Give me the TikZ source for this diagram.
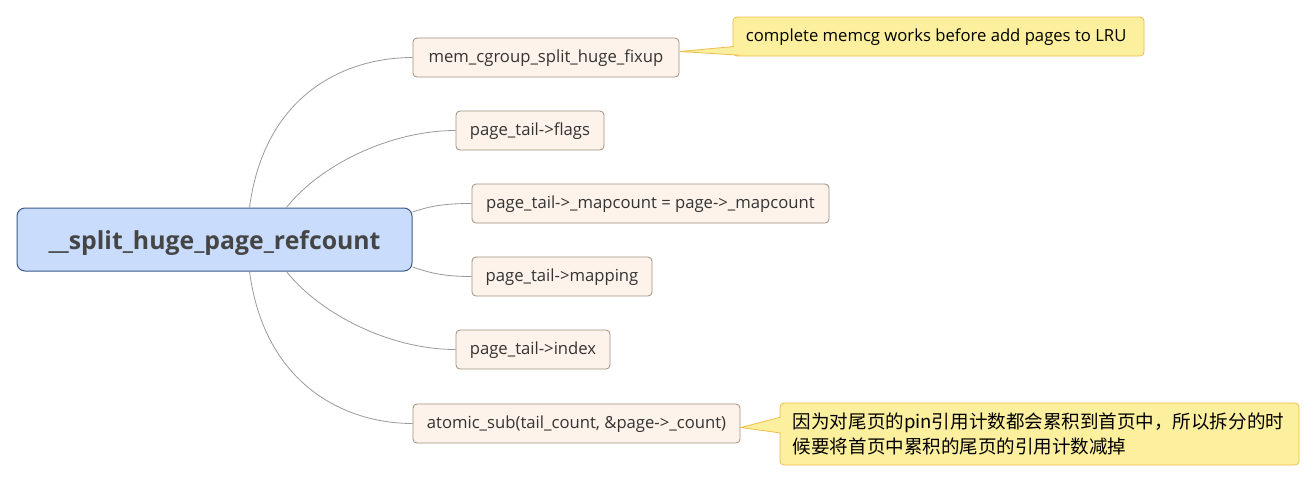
\documentclass[tikz,border=0pt]{standalone}
\usepackage{fontspec}
\setmainfont{Open Sans}
\newfontfamily\cjk{Noto Sans CJK SC}
\usetikzlibrary{calc}
\definecolor{rootfill}{HTML}{C9DCFB}
\definecolor{rootborder}{HTML}{3D5A8A}
\definecolor{topicfill}{HTML}{FEF3EA}
\definecolor{topicborder}{HTML}{9E8E80}
\definecolor{linkcol}{HTML}{9A9A9A}
\definecolor{calloutfill}{HTML}{FCEF9E}
\definecolor{calloutborder}{HTML}{EDBE4E}
\definecolor{textcol}{HTML}{333333}
\definecolor{roottext}{HTML}{454545}
\begin{document}
\begin{tikzpicture}[x=0.75pt,y=-0.75pt,
  rootbox/.style={draw=rootborder, fill=rootfill, rounded corners=6pt, line width=0.75pt,
    inner sep=0pt, minimum width=296.25pt, minimum height=47.25pt, text=roottext,
    text height=16.5pt, text depth=1pt,
    font=\fontsize{18.6}{22}\selectfont\bfseries},
  topic/.style={draw=topicborder, fill=topicfill, rounded corners=3pt, line width=0.6pt,
    inner sep=0pt, minimum height=29.25pt, text=textcol,
    text height=9pt, text depth=2pt,
    font=\fontsize{12.5}{15}\selectfont},
  callout/.style={draw=calloutborder, fill=calloutfill, rounded corners=3pt, line width=0.6pt,
    inner sep=0pt},
  link/.style={draw=linkcol, line width=0.6pt},
]
\useasboundingbox (0,0) rectangle (1316,483);
\fill[white] (0,0) rectangle (1316,483);

% root
\node[rootbox] (root) at (214.5,239.5) {\_\_split\_huge\_page\_refcount};

% topics
\node[topic, minimum width=199.5pt] (t1) at (546,57.5) {mem\_cgroup\_split\_huge\_fixup};
\node[topic, minimum width=111pt] (t2) at (530,130.5) {page\_tail->flags};
\node[topic, minimum width=267.75pt] (t3) at (650.5,203.5) {page\_tail->\_mapcount = page->\_mapcount};
\node[topic, minimum width=135pt] (t4) at (562,276.5) {page\_tail->mapping};
\node[topic, minimum width=115.5pt] (t5) at (533,349.5) {page\_tail->index};
\node[topic, minimum width=245.25pt] (t6) at (576.5,423.5) {atomic\_sub(tail\_count, \&page->\_count)};

% connectors
\coordinate (r1) at ($(root.north west)+(233,0)$);
\coordinate (r2) at ($(root.north west)+(270,0)$);
\coordinate (r5) at ($(root.south west)+(270,0)$);
\coordinate (r6) at ($(root.south west)+(233,0)$);
\coordinate (r3) at ($(root.north east)+(0,4.5)$);
\coordinate (r4) at ($(root.south east)+(0,-4.5)$);
\draw[link] (r1) .. controls ($(r1)+(15,-113)$) and ($(t1.west)+(-68,0)$) .. (t1.west);
\draw[link] (r2) .. controls ($(r2)+(33,-42)$) and ($(t2.west)+(-66,0)$) .. (t2.west);
\draw[link] (r3) .. controls ($(r3)+(18,-6)$) and ($(t3.west)+(-28,0)$) .. (t3.west);
\draw[link] (r4) .. controls ($(r4)+(18,6)$) and ($(t4.west)+(-28,0)$) .. (t4.west);
\draw[link] (r5) .. controls ($(r5)+(33,42)$) and ($(t5.west)+(-66,0)$) .. (t5.west);
\draw[link] (r6) .. controls ($(r6)+(15,113)$) and ($(t6.west)+(-68,0)$) .. (t6.west);

% callout 1
\node[callout, minimum width=308.25pt, minimum height=29.25pt] (c1) at (938.5,36.5) {};
\node[anchor=base west, inner sep=0pt, text=black, font=\fontsize{12.5}{15}\selectfont] (c1t) at ($(c1.west)+(13,5)$) {complete memcg works before add pages to LRU};
\coordinate (p1) at ($(t1.east)+(0.5,-6)$);
\coordinate (p1a) at ($(c1.west)+(1.2,10)$);
\coordinate (p1b) at ($(c1.south west)+(7,-1.2)$);
\fill[calloutfill] (p1) -- (p1a) -- (p1b) -- cycle;
\draw[calloutborder, line width=0.6pt] (p1a) -- (p1) -- (p1b);

% callout 2
\node[callout, minimum width=389.25pt, minimum height=46.5pt] (c2) at (1039.5,434) {};
\node[anchor=north west, inner sep=0pt, text=black, align=left,
  font=\cjk\fontsize{13.9}{18.75}\selectfont] (c2t) at ($(c2.north west)+(13,9.5)$)
  {因为对尾页的pin引用计数都会累积到首页中，所以拆分的时\\候要将首页中累积的尾页的引用计数减掉};
\coordinate (p2) at ($(t6.east)+(0.5,4)$);
\coordinate (p2a) at ($(c2.west)+(1.2,-17)$);
\coordinate (p2b) at ($(c2.west)+(1.2,-1)$);
\fill[calloutfill] (p2) -- (p2a) -- (p2b) -- cycle;
\draw[calloutborder, line width=0.6pt] (p2a) -- (p2) -- (p2b);
\end{tikzpicture}
\end{document}
